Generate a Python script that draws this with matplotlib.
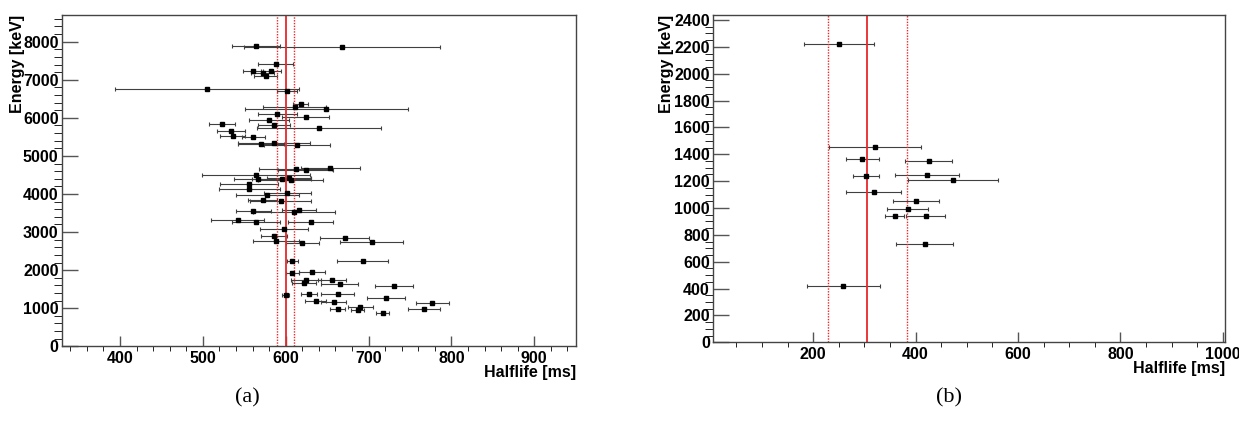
import matplotlib
matplotlib.use('Agg')
import matplotlib.pyplot as plt
from matplotlib.ticker import MultipleLocator

# panel (a): halflife [ms], error [ms], energy [keV]
hl_a = [564, 668, 588, 561, 582, 572, 576, 505, 602, 618, 611, 649, 590, 624,
        580, 523, 586, 640, 534, 536, 561, 570, 586, 614, 612, 654, 624, 564,
        566, 595, 604, 606, 556, 556, 602, 578, 572, 594, 616, 610, 561, 542,
        564, 630, 598, 586, 588, 620, 671, 704, 693, 608, 608, 632, 624, 656,
        622, 665, 731, 628, 663, 600, 721, 636, 658, 690, 663, 687, 717, 777, 767]
err_a = [29, 118, 21, 12, 12, 14, 14, 111, 12, 9, 38, 98, 24, 28,
         24, 16, 19, 75, 17, 15, 14, 28, 43, 40, 44, 36, 33, 65,
         29, 36, 27, 39, 35, 37, 28, 38, 18, 37, 21, 49, 21, 32,
         29, 27, 29, 16, 28, 20, 30, 38, 31, 7, 8, 16, 18, 17,
         15, 22, 23, 10, 20, 4, 23, 13, 15, 15, 9, 8, 8, 20, 19]
en_a = [7890, 7848, 7417, 7218, 7218, 7165, 7087, 6745, 6709, 6360, 6280, 6237, 6089, 6026,
        5940, 5843, 5808, 5730, 5643, 5520, 5486, 5302, 5336, 5276, 4665, 4675, 4620, 4496,
        4383, 4400, 4420, 4370, 4252, 4128, 4016, 3963, 3848, 3806, 3586, 3525, 3560, 3307,
        3262, 3262, 3078, 2895, 2772, 2719, 2850, 2730, 2247, 2231, 1916, 1958, 1748, 1740,
        1653, 1627, 1583, 1365, 1381, 1346, 1260, 1181, 1171, 1040, 987, 945, 866, 1136, 979]
mean_a = 600
band_a = [590, 610]

# panel (b)
hl_b = [251, 320, 296, 426, 303, 422, 473, 318, 400, 385, 359, 420, 418, 259]
err_b = [68, 90, 32, 46, 26, 63, 88, 54, 45, 40, 18, 38, 56, 71]
en_b = [2223, 1454, 1367, 1350, 1240, 1248, 1206, 1119, 1050, 990, 943, 943, 732, 417]
mean_b = 305
band_b = [229, 383]

W, H = 1239, 423
plt.rcParams['font.family'] = ['Liberation Sans', 'DejaVu Sans']
plt.rcParams['font.weight'] = 'bold'
fig = plt.figure(figsize=(W / 100, H / 100), dpi=100)


def box(l, t, r, b):
    return [l / W, 1 - b / H, (r - l) / W, (b - t) / H]


def style(ax, xmaj, xmin, ymaj, ymin):
    for s in ax.spines.values():
        s.set_color('#444444')
        s.set_linewidth(1)
    ax.xaxis.set_major_locator(MultipleLocator(xmaj))
    ax.xaxis.set_minor_locator(MultipleLocator(xmin))
    ax.yaxis.set_major_locator(MultipleLocator(ymaj))
    ax.yaxis.set_minor_locator(MultipleLocator(ymin))
    ax.tick_params(direction='in', colors='#555555', labelcolor='black',
                   labelsize=11.5, width=1)
    ax.tick_params(axis='x', which='major', length=7.2, pad=3.5)
    ax.tick_params(axis='x', which='minor', length=3.8)
    ax.tick_params(axis='y', which='major', length=11.5, pad=2.5)
    ax.tick_params(axis='y', which='minor', length=6)
    for lab in ax.get_xticklabels() + ax.get_yticklabels():
        lab.set_fontweight('bold')


def panel(rect, hl, err, en, mean, band, xlim, ylim, ms, ylab_x, tag, tag_x):
    ax = fig.add_axes(box(*rect))
    ax.errorbar(hl, en, xerr=err, fmt='s', ms=ms, color='black',
                ecolor='#404040', elinewidth=0.8, capsize=1.5, capthick=0.8)
    ax.axvline(mean, color='#e8282a', lw=1.3)
    for b in band:
        ax.axvline(b, color='#e8282a', lw=1, ls=(0, (1, 1)))
    ax.set_xlim(*xlim)
    ax.set_ylim(*ylim)
    l, t, r, b = rect
    fig.text(ylab_x / W, 1 - t / H, 'Energy [keV]', rotation=90,
             ha='center', va='top', fontsize=11.5, fontweight='bold')
    fig.text(r / W, 1 - (b + 26) / H, 'Halflife [ms]', ha='right',
             va='center', fontsize=11.5, fontweight='bold')
    fig.text(tag_x / W, 1 - 398 / H, tag, ha='center', va='center',
             fontsize=16, family='Liberation Serif', fontweight='normal')
    return ax


ax1 = panel((62, 15, 575.7, 346.3), hl_a, err_a, en_a, mean_a, band_a,
            (330, 950), (0, 8700), 2.6, 18, '(a)', 247)
style(ax1, 100, 20, 1000, 200)

ax2 = panel((713.3, 14.7, 1225.3, 342.3), hl_b, err_b, en_b, mean_b, band_b,
            (5, 1005), (0, 2440), 2.2, 667, '(b)', 949)
style(ax2, 200, 50, 200, 50)

fig.savefig('out.png', dpi=100)
